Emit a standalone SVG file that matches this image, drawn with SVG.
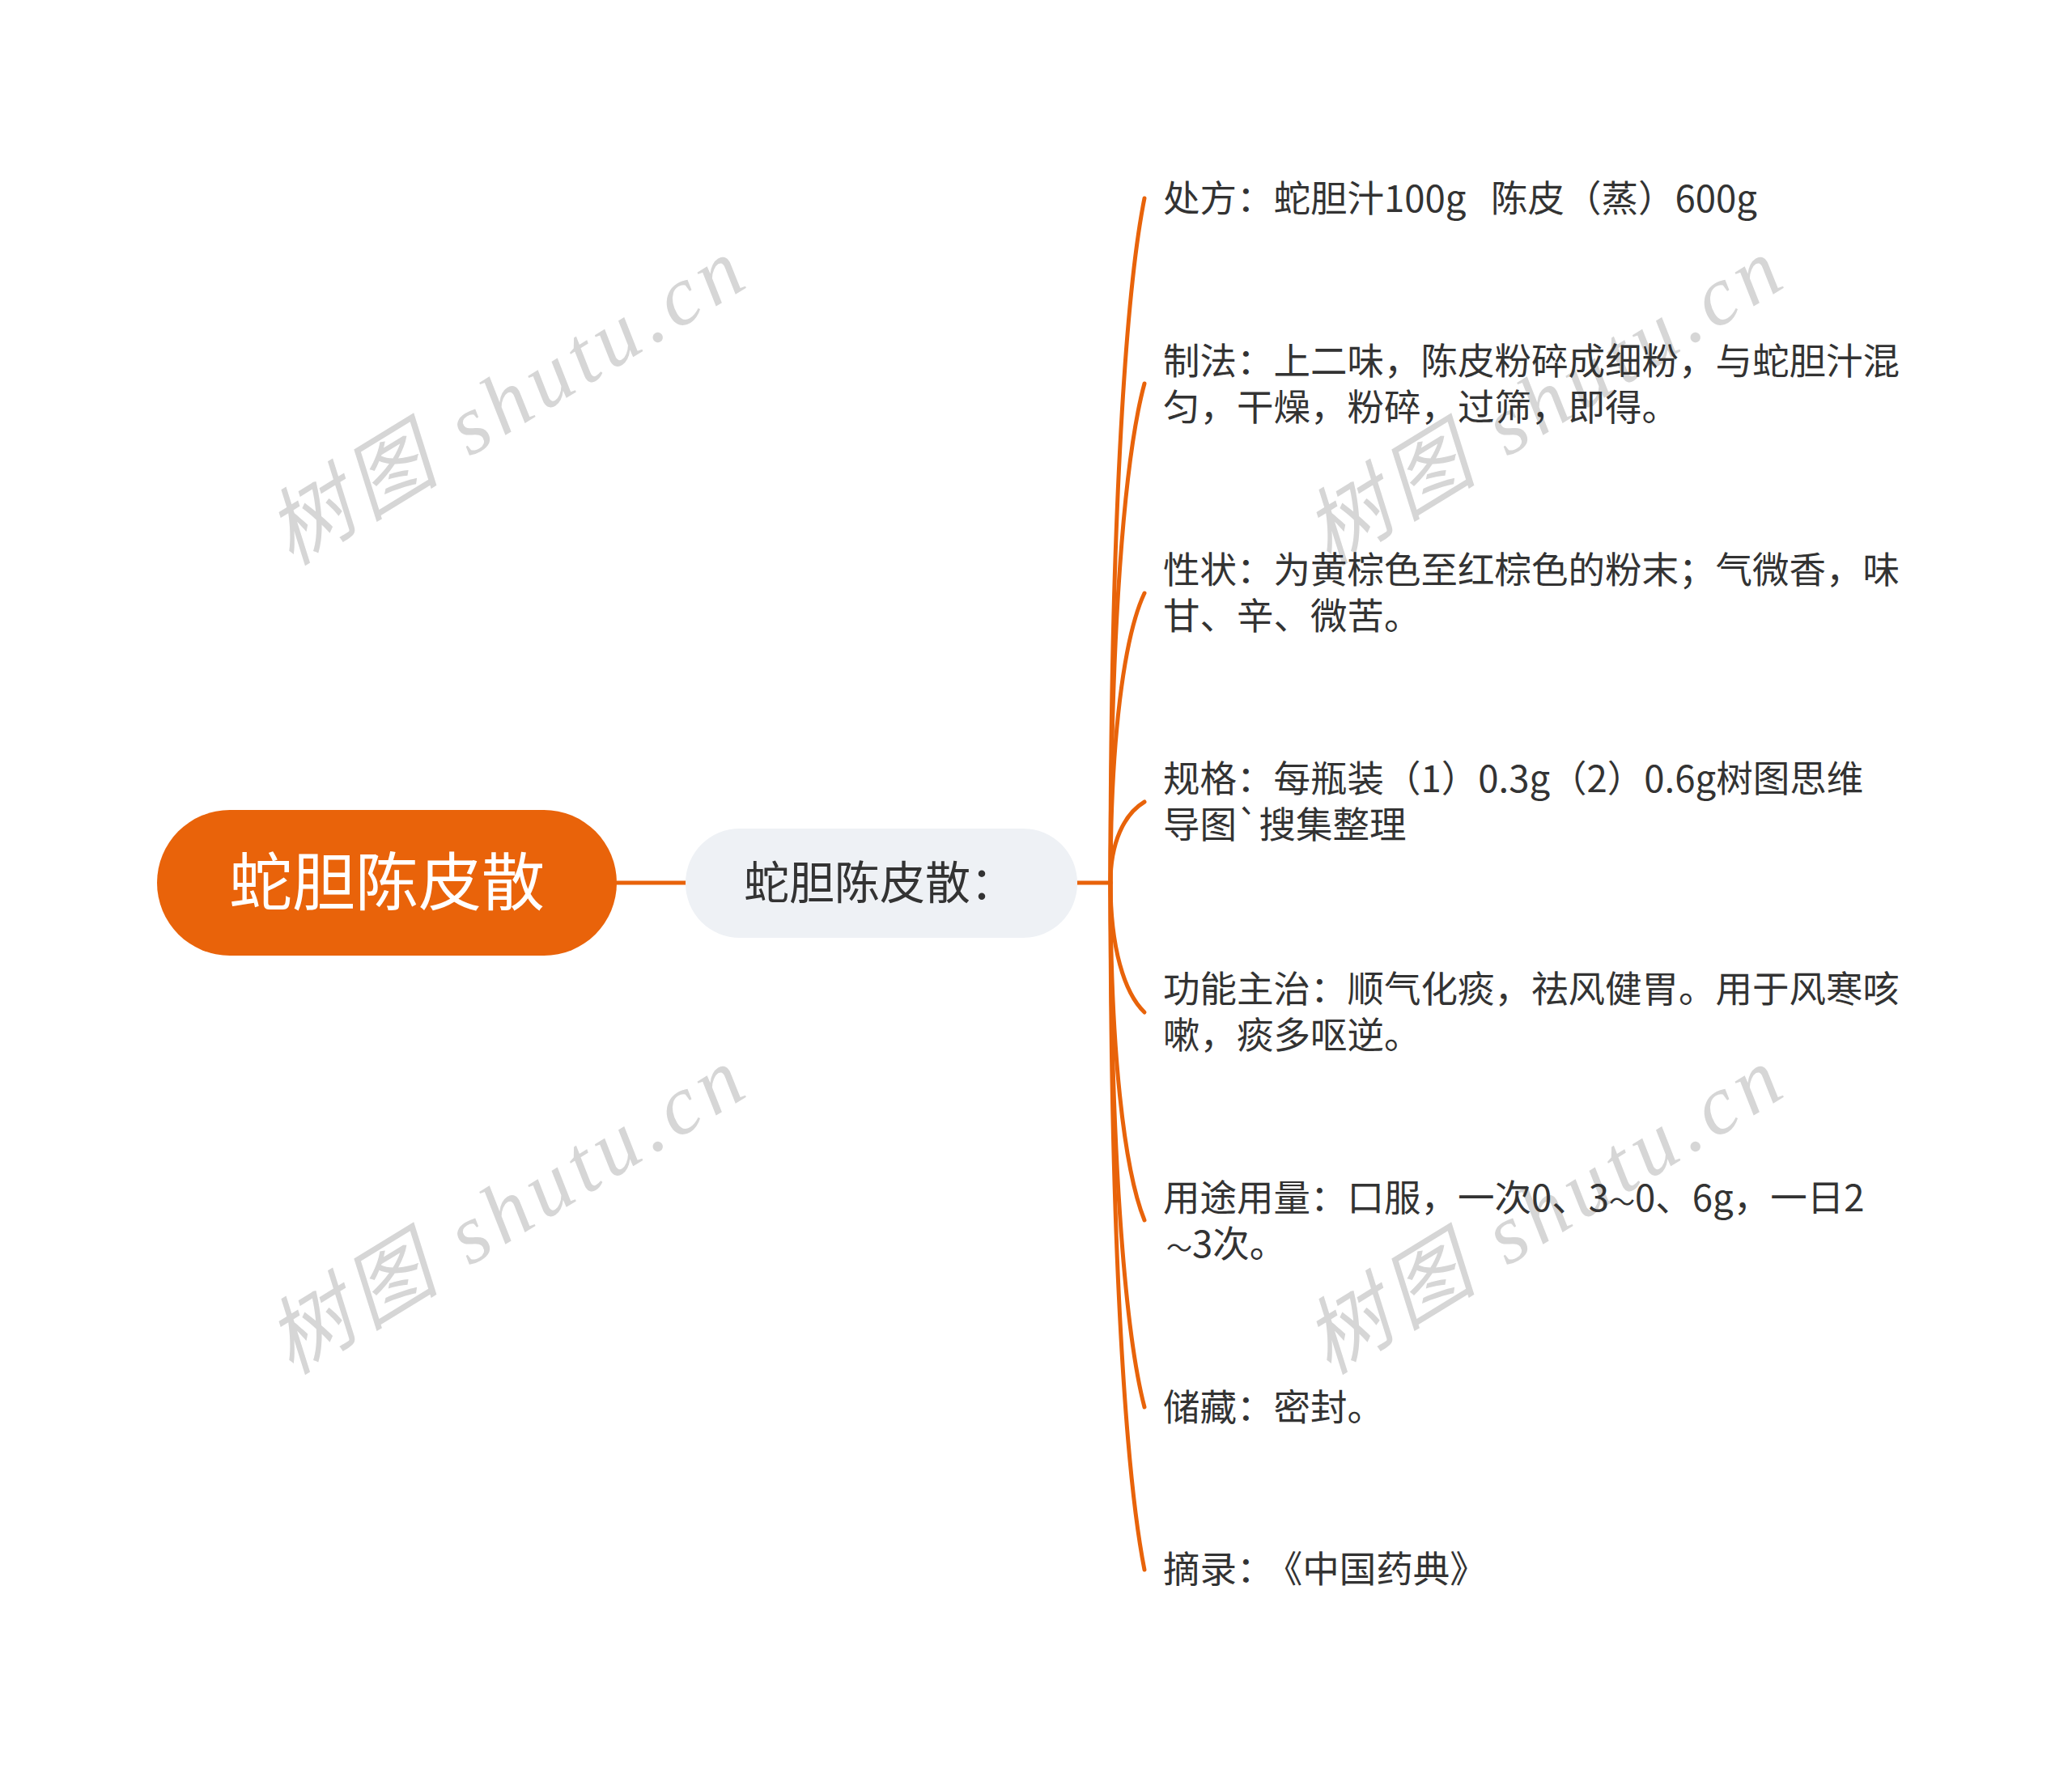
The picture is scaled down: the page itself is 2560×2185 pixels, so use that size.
<svg xmlns="http://www.w3.org/2000/svg" width="2560" height="2185" viewBox="0 0 2560 2185">
<style>
.wm{font-family:"Liberation Serif","Noto Sans CJK SC",serif;font-style:italic;font-size:104px;letter-spacing:8px;fill:#d6d6d6}
.leaf{font-family:"Noto Sans CJK SC","Noto Sans",sans-serif;font-size:45.5px;fill:#333333}
.tl{font-size:32px}
.conn{fill:none;stroke:#E8630A;stroke-width:5;stroke-linecap:round}
</style>
<rect width="2560" height="2185" fill="#ffffff"/>
<g id="watermarks">
<text class="wm" x="360" y="700" transform="rotate(-31.5 360 700)">树图 shutu.cn</text>
<text class="wm" x="1642" y="700" transform="rotate(-31.5 1642 700)">树图 shutu.cn</text>
<text class="wm" x="360" y="1700" transform="rotate(-31.5 360 1700)">树图 shutu.cn</text>
<text class="wm" x="1642" y="1700" transform="rotate(-31.5 1642 1700)">树图 shutu.cn</text>
</g>
<g id="connectors">
<path class="conn" d="M762 1091 L847 1091"/>
<path class="conn" d="M1331 1091 L1372 1091"/>
<path class="conn" d="M1372 1091 C1372 669 1389 370 1414 245"/>
<path class="conn" d="M1372 1091 C1372 782 1389 566 1414 474"/>
<path class="conn" d="M1372 1091 C1372 912 1389 786 1414 733"/>
<path class="conn" d="M1372 1091 C1372 1041 1389 1006 1414 991"/>
<path class="conn" d="M1372 1091 C1372 1171 1389 1227 1414 1251"/>
<path class="conn" d="M1372 1091 C1372 1300 1389 1446 1414 1508"/>
<path class="conn" d="M1372 1091 C1372 1415 1389 1643 1414 1739"/>
<path class="conn" d="M1372 1091 C1372 1515 1389 1813 1414 1940"/>
</g>
<g id="root">
<rect x="194" y="1001" width="568" height="180" rx="90" ry="90" fill="#E9630A"/>
<text x="478" y="1119" text-anchor="middle" font-family="Noto Sans CJK SC, Noto Sans, sans-serif" font-size="78" fill="#ffffff">蛇胆陈皮散</text>
</g>
<g id="main">
<rect x="847" y="1024" width="484" height="135" rx="67" ry="67" fill="#EEF1F5"/>
<text x="1087" y="1111" text-anchor="middle" font-family="Noto Sans CJK SC, Noto Sans, sans-serif" font-size="56" fill="#333333">蛇胆陈皮散：</text>
</g>
<g id="leaf1"><text class="leaf" x="1437" y="262" xml:space="preserve">处方：蛇胆汁100g   陈皮（蒸）600g</text></g>
<g id="leaf2"><text class="leaf" x="1437" y="463">制法：上二味，陈皮粉碎成细粉，与蛇胆汁混<tspan x="1437" y="520">匀，干燥，粉碎，过筛，即得。</tspan></text></g>
<g id="leaf3"><text class="leaf" x="1437" y="721">性状：为黄棕色至红棕色的粉末；气微香，味<tspan x="1437" y="778">甘、辛、微苦。</tspan></text></g>
<g id="leaf4"><text class="leaf" x="1437" y="979">规格：每瓶装（1）0.3g（2）0.6g树图思维<tspan x="1437" y="1036">导图`搜集整理</tspan></text></g>
<g id="leaf5"><text class="leaf" x="1437" y="1239">功能主治：顺气化痰，祛风健胃。用于风寒咳<tspan x="1437" y="1296">嗽，痰多呕逆。</tspan></text></g>
<g id="leaf6"><text class="leaf" x="1437" y="1497">用途用量：口服，一次0、3<tspan class="tl">～</tspan>0、6g，一日2<tspan x="1437" y="1554"><tspan class="tl" dx="4">～</tspan>3次。</tspan></text></g>
<g id="leaf7"><text class="leaf" x="1437" y="1756">储藏：密封。</text></g>
<g id="leaf8"><text class="leaf" x="1437" y="1956">摘录：<tspan dx="13">《中国药典》</tspan></text></g>
</svg>
